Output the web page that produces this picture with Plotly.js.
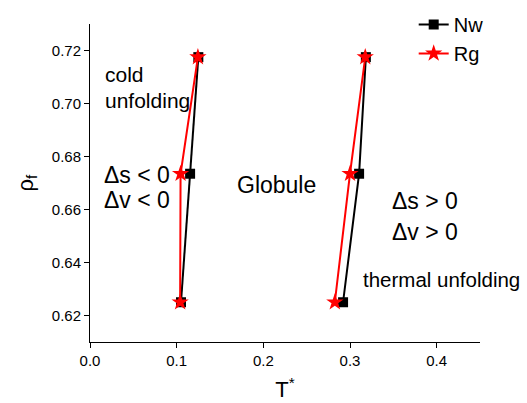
<!DOCTYPE html>
<html>
<head>
<meta charset="utf-8">
<script src="https://cdn.plot.ly/plotly-3.0.1.min.js"></script>
<style>html,body{margin:0;padding:0;background:#fff;}#chart{width:527px;height:403px;}</style>
</head>
<body>
<div id="chart"></div>
<script>
// Data
const nwT = [0.105, 0.1155, 0.125, null, 0.292, 0.3105, 0.3183];
const nwRho = [0.625, 0.6735, 0.7175, null, 0.625, 0.6735, 0.7175];
const rgT = [0.104, 0.1045, 0.1245, null, 0.2825, 0.300, 0.3176];
const rgRho = [0.625, 0.6735, 0.7175, null, 0.625, 0.6735, 0.7175];
const xTicks = [0.0, 0.1, 0.2, 0.3, 0.4];
const xTickText = ['0.0', '0.1', '0.2', '0.3', '0.4'];
const yTicks = [0.62, 0.64, 0.66, 0.68, 0.70, 0.72];
const yTickText = ['0.62', '0.64', '0.66', '0.68', '0.70', '0.72'];

const FONT = 'Liberation Sans, Arial, sans-serif';

const traces = [
  {x: nwT, y: nwRho, name: 'Nw', mode: 'lines+markers', connectgaps: false,
   line: {color: '#000000', width: 2},
   marker: {symbol: 'square', size: 10, color: '#000000'}},
  {x: rgT, y: rgRho, name: 'Rg', mode: 'lines+markers', connectgaps: false,
   line: {color: '#ff0000', width: 2},
   marker: {symbol: 'star', size: 13, color: '#ff0000'}}
];

function ann(text, x, y, size, anchor) {
  return {text: text, x: x, y: y, xref: 'x', yref: 'y', showarrow: false,
          xanchor: anchor || 'left', yanchor: 'middle',
          font: {family: FONT, size: size, color: '#000'}};
}

const layout = {
  width: 527, height: 403,
  margin: {l: 90, r: 47, t: 24, b: 61, autoexpand: false},
  paper_bgcolor: '#fff', plot_bgcolor: '#fff',
  font: {family: FONT, color: '#000'},
  showlegend: true,
  legend: {x: 0.83, y: 1.06, xanchor: 'left', yanchor: 'top',
           font: {family: FONT, size: 20, color: '#000'},
           bgcolor: 'rgba(0,0,0,0)', tracegroupgap: 0, itemwidth: 30},
  xaxis: {range: [0, 0.45], tickvals: xTicks, ticktext: xTickText,
          showgrid: false, zeroline: false, showline: true, linecolor: '#000', linewidth: 1,
          ticks: 'outside', ticklen: 5, tickcolor: '#000',
          tickfont: {family: FONT, size: 15, color: '#000'},
          title: {text: 'T<sup>*</sup>', font: {family: FONT, size: 22, color: '#000'}, standoff: 13}},
  yaxis: {range: [0.61, 0.73], tickvals: yTicks, ticktext: yTickText,
          showgrid: false, zeroline: false, showline: true, linecolor: '#000', linewidth: 1,
          ticks: 'outside', ticklen: 5, tickcolor: '#000',
          tickfont: {family: FONT, size: 15, color: '#000'},
          title: {text: 'ρ<sub>f</sub>', font: {family: FONT, size: 22, color: '#000'}, standoff: 12}},
  annotations: [
    ann('cold', 0.015, 0.7109, 21),
    ann('unfolding', 0.015, 0.701, 21),
    ann('Δs &lt; 0', 0.014, 0.673, 23),
    ann('Δv &lt; 0', 0.014, 0.6635, 23),
    ann('Globule', 0.2157, 0.6691, 23, 'center'),
    ann('Δs &gt; 0', 0.346, 0.6631, 23),
    ann('Δv &gt; 0', 0.346, 0.6517, 23),
    ann('thermal unfolding', 0.313, 0.6335, 20.5)
  ]
};

Plotly.newPlot('chart', traces, layout, {displayModeBar: false, staticPlot: true});
</script>
</body>
</html>
